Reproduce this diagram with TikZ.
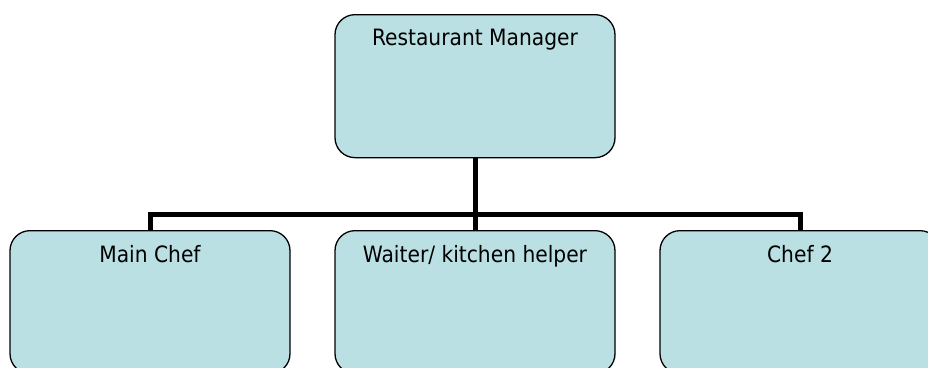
\documentclass[tikz,border=0pt]{standalone}
\usepackage{fontspec}
\setmainfont{DejaVu Sans Condensed}
\definecolor{boxfill}{RGB}{187,224,227}
\tikzset{
  orgbox/.style={draw=black, line width=1.3pt, fill=boxfill, rounded corners=20pt,
    minimum width=280pt, inner sep=0pt, anchor=north, align=center,
    font=\fontsize{22.5}{25}\selectfont},
  topbox/.style={orgbox, text height=31pt, text depth=112pt},
  lowbox/.style={orgbox, text height=32pt, text depth=111pt},
  conn/.style={line width=5pt, line join=miter}
}
\begin{document}
\begin{tikzpicture}[x=1pt,y=-1pt]
\useasboundingbox (0,0) rectangle (928,367);
\clip (0,0) rectangle (928,367);
\node[topbox] (mgr) at (475,14) {Restaurant Manager};
\node[lowbox] (chef1) at (150,230) {Main Chef};
\node[lowbox] (waiter) at (475,230) {Waiter/ kitchen helper};
\node[lowbox] (chef2) at (800,230) {Chef 2};
\coordinate (j) at (475,214);
\draw[conn] (mgr.south) -- (j);
\draw[conn] (chef1.north) -- (chef1.north |- j) -- (chef2.north |- j) -- (chef2.north);
\draw[conn] (j) -- (waiter.north);
\end{tikzpicture}
\end{document}
